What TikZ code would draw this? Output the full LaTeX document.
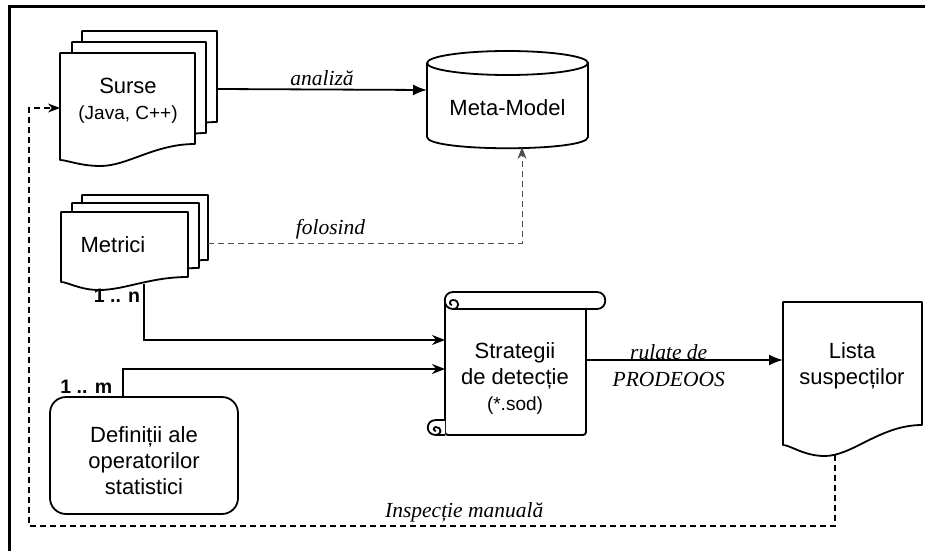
\documentclass[tikz,border=0pt]{standalone}
\usepackage{fontspec}
\setmainfont{Liberation Sans}
\newfontfamily\serifit{Liberation Serif}
\usetikzlibrary{arrows.meta}

% sheet with a wavy lower edge: x1, top, x2, right bottom, left bottom, lowest point
\newcommand{\docsheet}[6]{%
  \filldraw[sheet] (#1,#2) -- (#3,#2) -- (#3,#4)
    .. controls ({#3-0.3*(#3-#1)},#4) and ({#1+0.5*(#3-#1)},#6) .. ({#1+0.3*(#3-#1)},#6)
    .. controls ({#1+0.15*(#3-#1)},#6) and ({#1+0.05*(#3-#1)},#5) .. (#1,#5) -- cycle;}

\begin{document}
\begin{tikzpicture}[x=1pt,y=-1pt,
    sheet/.style={draw,fill=white,line width=1.8pt,line join=round},
    txt/.style={align=center,font=\fontsize{22}{26}\selectfont},
    lbl/.style={font=\fontsize{21.5}{27}\serifit\itshape},
    mult/.style={font=\fontsize{19.5}{22}\selectfont\bfseries,inner sep=1pt},
    arr/.style={line width=1.8pt,-{Latex[length=14pt,width=11pt]}},
    barb/.style={line width=1.8pt,-{Stealth[length=13pt,width=10pt]}},
    dasharr/.style={line width=1.3pt,dash pattern=on 6pt off 4pt,-{Stealth[length=12pt,width=9pt]}}]
    \useasboundingbox (0,0) rectangle (925,551);
    \draw[line width=3pt] (9,551) -- (9,7) -- (925,7);

    % sources
    \docsheet{82}{31}{217}{122}{138}{144}
    \docsheet{72}{42}{206}{133}{149}{155}
    \docsheet{60}{53}{195}{144}{160}{166}
    \node[txt] (surse) at (128,101) {Surse\\{\fontsize{19}{26}\selectfont (Java, C++)}};
    \coordinate (surse-e) at (217,89);
    \coordinate (surse-w) at (60,108);

    % metrics
    \docsheet{82}{195}{208}{260}{266}{273}
    \docsheet{72}{203}{199}{268}{274}{281}
    \docsheet{61}{212}{188}{277}{282}{290}
    \node[txt] (metrici) at (113,245) {Metrici};
    \coordinate (metrici-e) at (208,243);
    \coordinate (metrici-s) at (144,284);

    % meta-model
    \filldraw[sheet] (427,63) -- (427,137) .. controls (427,152) and (588,152) .. (588,137) -- (588,63);
    \draw[sheet] (507.5,63) ellipse [x radius=80.5, y radius=12];
    \node[txt] (meta) at (507.5,108) {Meta-Model};
    \coordinate (meta-w) at (427,90);
    \coordinate (meta-s) at (522,147);

    % statistical operators
    \node[sheet,rounded corners=16pt,minimum width=188,minimum height=117] (defs) at (144,455.5) {};
    \node[txt] (defs-txt) at (144,461) {Definiții ale\\operatorilor\\statistici};
    \coordinate (defs-n) at (123,397);

    % detection strategies
    \filldraw[sheet,rounded corners=3pt] (445,300) -- (445,435) -- (586,435) -- (586,309);
    \filldraw[sheet] (453,309) -- (597,309) .. controls (608,309) and (608,292) .. (597,292)
        -- (453,292) .. controls (442,292) and (442,309) .. (453,309);
    \draw[sheet] (453,309) .. controls (460,309) and (460,300) .. (453,300)
        .. controls (449,300) and (449,305) .. (452,305);
    \filldraw[sheet] (445,420) -- (436,420) .. controls (425,420) and (425,435) .. (436,435) -- (445,435);
    \draw[sheet] (436,435) .. controls (442,435) and (442,427) .. (436,427)
        .. controls (433,427) and (433,431) .. (436,431);
    \node[txt] (strat) at (515,378) {Strategii\\de detecție\\{\fontsize{19}{26}\selectfont (*.sod)}};
    \coordinate (strat-w1) at (445,340);
    \coordinate (strat-w2) at (445,369);
    \coordinate (strat-e) at (586,360);

    % suspects
    \docsheet{783}{302}{922}{425}{445}{456}
    \node[txt] (lista) at (852,366) {Lista\\suspecților};
    \coordinate (lista-w) at (783,360);
    \coordinate (lista-s) at (835,455);
    \coordinate (fb) at (29,526);

    \draw[arr] (surse-e) -- (meta-w) node[midway,above,lbl] {analiză};
    \draw[dasharr,line width=1pt,draw=black!70] (metrici-e) -| (meta-s) node[pos=0.195,above,lbl,text=black] {folosind};
    \draw[barb] (metrici-s) |- (strat-w1) node[at start,below left,mult,xshift=-2,yshift=-3] {1 .. n};
    \draw[barb] (defs-n) |- (strat-w2) node[at start,above left,mult,xshift=-9,yshift=2] {1 .. m};
    \draw[arr] (strat-e) -- (lista-w) node[pos=0.42,yshift=-6,lbl,align=center] {rulate de\\PRODEOOS};
    \draw[dasharr] (lista-s) |- (fb) node[pos=0.73,above,lbl] {Inspecție manuală} |- (surse-w);
\end{tikzpicture}
\end{document}
